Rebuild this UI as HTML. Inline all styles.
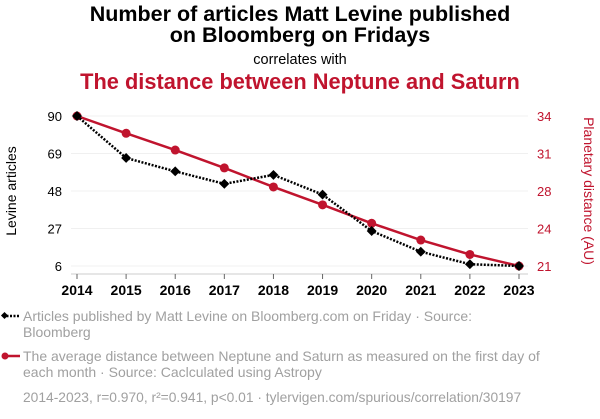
<!DOCTYPE html>
<html><head><meta charset="utf-8"><style>
html,body{margin:0;padding:0;background:#fff;}
body{width:600px;height:414px;overflow:hidden;font-family:"Liberation Sans",Arial,sans-serif;}
</style></head><body>
<svg id="chart" width="600" height="414" xmlns="http://www.w3.org/2000/svg" font-family="Liberation Sans, Arial, sans-serif">
<text x="300" y="21" text-anchor="middle" font-size="21.5" font-weight="bold" fill="#000">Number of articles Matt Levine published</text>
<text x="300" y="42" text-anchor="middle" font-size="21.5" font-weight="bold" fill="#000">on Bloomberg on Fridays</text>
<text x="300" y="64" text-anchor="middle" font-size="14.5" fill="#000">correlates with</text>
<text x="300" y="89" text-anchor="middle" font-size="21.8" font-weight="bold" fill="#c0142e">The distance between Neptune and Saturn</text>
<text transform="translate(16,191) rotate(-90)" text-anchor="middle" font-size="14" fill="#000">Levine articles</text>
<text transform="translate(584,191) rotate(90)" text-anchor="middle" font-size="14" fill="#c0142e">Planetary distance (AU)</text>
<g id="grid"></g><g id="axes"></g><g id="series"></g>
<g>
<line x1="3" y1="316" x2="20" y2="316" stroke="#000" stroke-width="2.5" stroke-dasharray="2,1.5"/>
<rect x="2" y="313" width="5" height="5" transform="rotate(45 4.5 315.5)" fill="#000"/>
<text font-size="14" fill="#a0a0a0"><tspan x="23" y="321">Articles published by Matt Levine on Bloomberg.com on Friday · Source:</tspan><tspan x="23" y="337">Bloomberg</tspan></text>
<line x1="3" y1="356" x2="20" y2="356" stroke="#c0142e" stroke-width="2.5"/>
<circle cx="5" cy="356" r="3.5" fill="#c0142e"/>
<text font-size="14" fill="#a0a0a0"><tspan x="23" y="361">The average distance between Neptune and Saturn as measured on the first day of</tspan><tspan x="23" y="377">each month · Source: Caclculated using Astropy</tspan></text>
<text x="23" y="402" font-size="13.8" fill="#a0a0a0">2014-2023, r=0.970, r²=0.941, p&lt;0.01 · tylervigen.com/spurious/correlation/30197</text>
</g>
</svg>
<script>
const years = [2014,2015,2016,2017,2018,2019,2020,2021,2022,2023];
const articles = [90,66.5,59,52,57,46,25.6,14,7,6];
const distance = [34,32.5,31.05,29.5,27.85,26.3,24.7,23.25,22.0,21];
const leftTicks = [90,69,48,27,6];
const rightTickLabels = ["34","31","28","24","21"];
const NS="http://www.w3.org/2000/svg";
const x0=77,x1=519,yTop=116,yBot=266;
const xs=i=>x0+(x1-x0)*i/(years.length-1);
const yL=v=>yBot-(v-6)/(90-6)*(yBot-yTop);
const yR=v=>yBot-(v-21)/(34-21)*(yBot-yTop);
function mk(tag,attrs,parent){const e=document.createElementNS(NS,tag);for(const k in attrs)e.setAttribute(k,attrs[k]);parent.appendChild(e);return e;}
const grid=document.getElementById('grid'),axes=document.getElementById('axes'),ser=document.getElementById('series');
leftTicks.forEach((t,i)=>{
  const y=yL(t);
  const g=mk('line',{x1:71,x2:528,y1:y,y2:y,stroke:'#f0f0f0','stroke-width':1},grid);
  
  
  const tl=mk('text',{x:62,y:y+5,'text-anchor':'end','font-size':13,fill:'#000'},axes);tl.textContent=t;
  
  
  const tr=mk('text',{x:537,y:y+5,'font-size':13,fill:'#c0142e'},axes);tr.textContent=rightTickLabels[i];
  
  
});
const base=mk('line',{x1:71,x2:528,y1:274,y2:274,stroke:'#ccc','stroke-width':1},axes);


years.forEach((yr,i)=>{
  const x=xs(i);
  mk('line',{x1:x,x2:x,y1:274,y2:279,stroke:'#666','stroke-width':1},axes);
  const t=mk('text',{x:x,y:295,'text-anchor':'middle','font-size':14,'font-weight':'bold',fill:'#000'},axes);t.textContent=yr;
  
  
});
const rl=mk('polyline',{points:distance.map((v,i)=>xs(i)+','+yR(v)).join(' '),fill:'none',stroke:'#c0142e','stroke-width':2.5},ser);


distance.forEach((v,i)=>{const c=mk('circle',{cx:xs(i),cy:yR(v),r:4.5,fill:'#c0142e'},ser);
  
  });
const bl=mk('polyline',{points:articles.map((v,i)=>xs(i)+','+yL(v)).join(' '),fill:'none',stroke:'#000','stroke-width':2.5,'stroke-dasharray':'2,1.5'},ser);


articles.forEach((v,i)=>{const x=xs(i),y=yL(v);
  const d=mk('rect',{x:x-3.5,y:y-3.5,width:7,height:7,fill:'#000',transform:`rotate(45 ${x} ${y})`},ser);
  
  });
</script>
</body></html>
